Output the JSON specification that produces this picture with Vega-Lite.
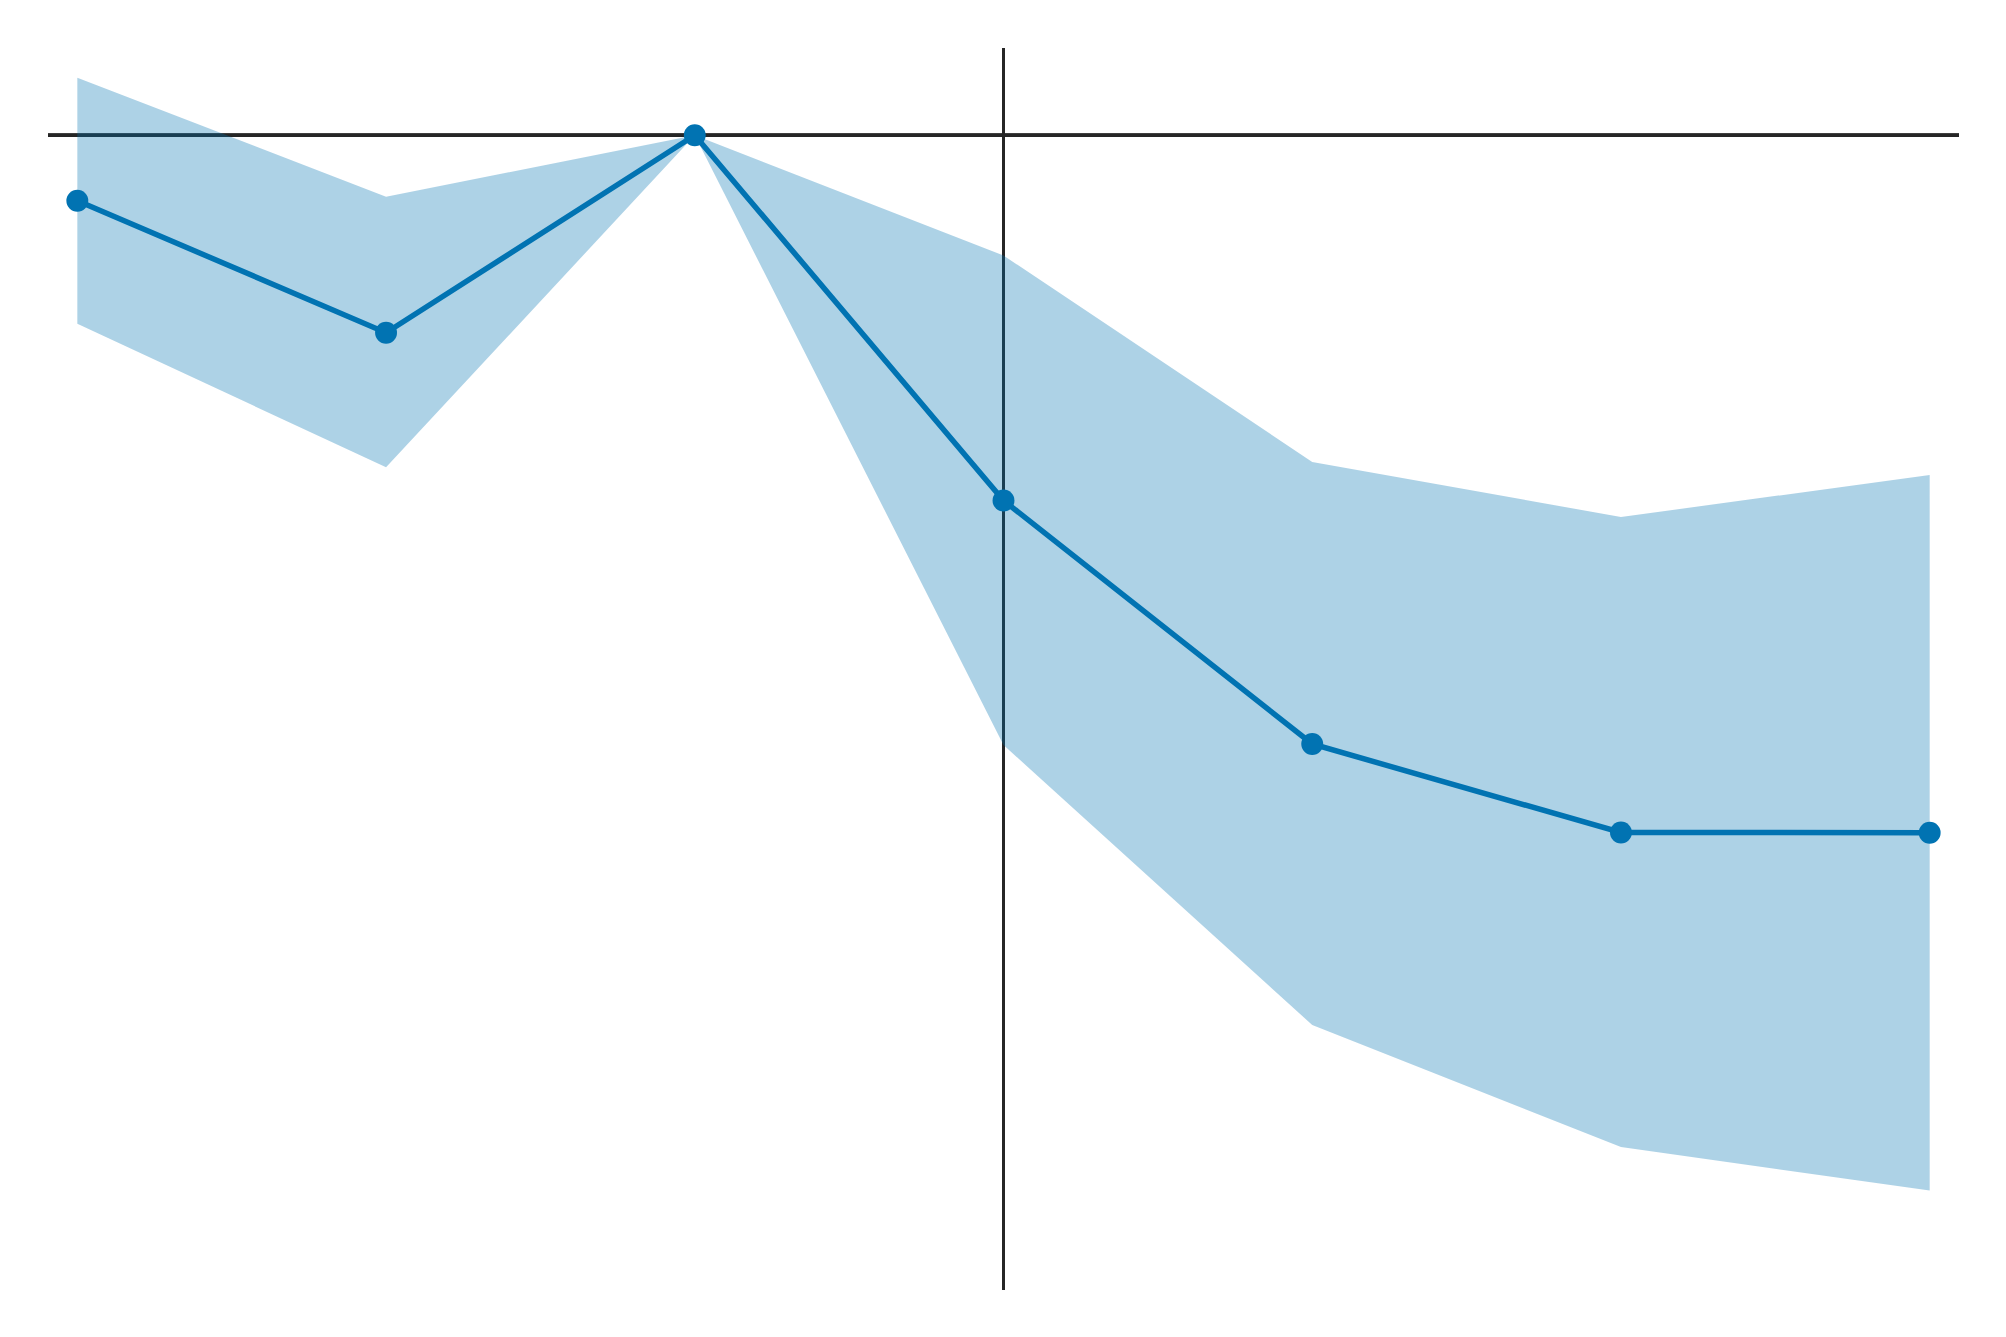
{
  "$schema": "https://vega.github.io/schema/vega-lite/v6.json",
  "width": 1911,
  "height": 1242,
  "autosize": {"type": "none"},
  "padding": {"left": 48, "top": 48, "right": 0, "bottom": 0},
  "background": "white",
  "config": {"view": {"stroke": null}},
  "data": {
    "values": [
      {"t": -3, "est": -0.654, "lo": -1.884, "hi": 0.576},
      {"t": -2, "est": -1.974, "lo": -3.32, "hi": -0.614},
      {"t": -1, "est": 0, "lo": 0, "hi": 0},
      {"t": 0, "est": -3.652, "lo": -6.097, "hi": -1.202},
      {"t": 1, "est": -6.087, "lo": -8.897, "hi": -3.267},
      {"t": 2, "est": -6.972, "lo": -10.117, "hi": -3.817},
      {"t": 3, "est": -6.974, "lo": -10.552, "hi": -3.397}
    ]
  },
  "encoding": {
    "x": {"field": "t", "type": "quantitative", "scale": {"domain": [-3.095, 3.095], "nice": false, "zero": false}, "axis": null}
  },
  "layer": [
    {
      "mark": {"type": "rule", "color": "#262626", "strokeWidth": 3},
      "encoding": {"x": {"datum": 0}, "y": null}
    },
    {
      "mark": {"type": "rule", "color": "#262626", "strokeWidth": 3},
      "encoding": {"x": null, "y": {"datum": 0, "type": "quantitative", "scale": {"domain": [-11.547, 0.873], "nice": false, "zero": false}, "axis": null}}
    },
    {
      "mark": {"type": "area", "color": "#0173b2", "opacity": 0.32},
      "encoding": {
        "y": {"field": "lo", "type": "quantitative", "scale": {"domain": [-11.547, 0.873], "nice": false, "zero": false}, "axis": null},
        "y2": {"field": "hi"}
      }
    },
    {
      "mark": {"type": "line", "color": "#0173b2", "strokeWidth": 5.5},
      "encoding": {"y": {"field": "est", "type": "quantitative", "axis": null}}
    },
    {
      "mark": {"type": "point", "filled": true, "color": "#0173b2", "opacity": 1, "size": 480},
      "encoding": {"y": {"field": "est", "type": "quantitative", "axis": null}}
    }
  ]
}
